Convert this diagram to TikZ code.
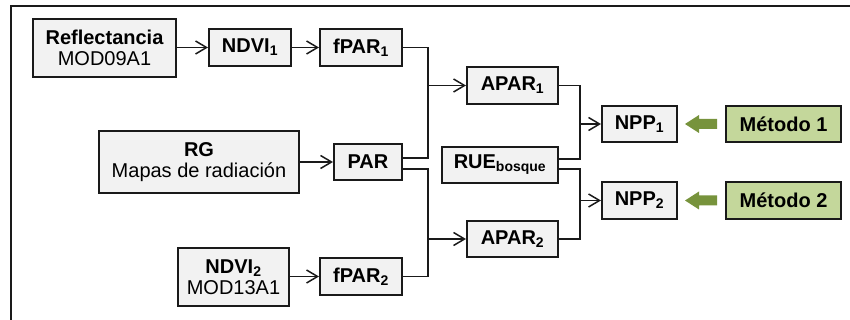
\documentclass[tikz,border=0pt]{standalone}
\usepackage{fontspec}
\setmainfont{Liberation Sans}
\usetikzlibrary{arrows.meta}
\definecolor{boxfill}{HTML}{F2F2F2}
\definecolor{methfill}{HTML}{C4D79B}
\definecolor{methdark}{HTML}{77933C}
\definecolor{edge}{HTML}{1A1A1A}
\tikzset{
  blk/.style={draw=edge, line width=2pt, fill=boxfill, inner sep=0pt,
    align=center, font=\fontsize{20}{21}\selectfont\bfseries},
  meth/.style={blk, fill=methfill},
  link/.style={draw=edge, line width=1.5pt},
  arr/.style={link, -{Straight Barb[length=11pt,width=13pt,line width=1.5pt]}}
}
\newcommand{\lo}[1]{\textsubscript{#1}}
\begin{document}
\begin{tikzpicture}[x=1pt,y=-1pt]
\useasboundingbox (0,0) rectangle (850,320);
% outer frame (top and left edges)
\draw[line width=1.5pt, edge] (850,6) -- (11,6) -- (11,320);

% boxes
\node[blk, minimum width=143pt, minimum height=58pt] (refl) at (104.5,48)
  {Reflectancia\\{\mdseries MOD09A1}};
\node[blk, minimum width=82pt, minimum height=37pt] (ndvi1) at (250,47.5) {NDVI\lo{1}};
\node[blk, minimum width=82pt, minimum height=37pt] (fpar1) at (361,47.5) {fPAR\lo{1}};
\node[blk, minimum width=200pt, minimum height=62pt] (rg) at (199,162)
  {RG\\{\mdseries Mapas de radiación}};
\node[blk, minimum width=68pt, minimum height=36pt] (par) at (368,162) {PAR};
\node[blk, minimum width=111pt, minimum height=58pt] (ndvi2) at (233.5,277)
  {NDVI\lo{2}\\{\mdseries MOD13A1}};
\node[blk, minimum width=82pt, minimum height=37pt] (fpar2) at (361,276.5) {fPAR\lo{2}};
\node[blk, minimum width=91pt, minimum height=37pt] (apar1) at (512.5,85.5) {APAR\lo{1}};
\node[blk, minimum width=116pt, minimum height=36pt] (rue) at (500,165) {RUE\lo{bosque}};
\node[blk, minimum width=91pt, minimum height=36pt] (apar2) at (512.5,239) {APAR\lo{2}};
\node[blk, minimum width=75pt, minimum height=36pt] (npp1) at (639.5,124) {NPP\lo{1}};
\node[blk, minimum width=75pt, minimum height=37pt] (npp2) at (639.5,200.5) {NPP\lo{2}};
\node[meth, minimum width=115pt, minimum height=36pt] (m1) at (783.5,124) {Método 1};
\node[meth, minimum width=115pt, minimum height=37pt] (m2) at (783.5,200.5) {Método 2};

% junction columns and exit points
\coordinate (ja) at (428,0);
\coordinate (jb) at (580,0);
\coordinate (parhi) at ([yshift=4pt]par.east);
\coordinate (parlo) at ([yshift=-7pt]par.east);
\coordinate (ruehi) at ([yshift=6pt]rue.east);
\coordinate (ruelo) at ([yshift=-4pt]rue.east);

% straight links
\draw[arr] (refl.east |- ndvi1.west) -- (ndvi1.west);
\draw[arr] (ndvi1) -- (fpar1);
\draw[arr] (rg) -- (par);
\draw[arr] (ndvi2.east |- fpar2.west) -- (fpar2.west);

% fPAR and PAR feed APAR
\draw[link] (fpar1.east) -| (ja |- parhi) -- (parhi);
\draw[link] (parlo) -| (ja |- fpar2.east) -- (fpar2.east);
\draw[arr] (ja |- apar1.west) -- (apar1.west);
\draw[arr] (ja |- apar2.west) -- (apar2.west);

% APAR and RUE feed NPP
\draw[link] (apar1.east) -| (jb |- ruehi) -- (ruehi);
\draw[link] (ruelo) -| (jb |- apar2.east) -- (apar2.east);
\draw[arr] (jb |- npp1.west) -- (npp1.west);
\draw[arr] (jb |- npp2.west) -- (npp2.west);

% method arrows
\foreach \m in {m1, m2}{
  \fill[methdark] ([xshift=-8pt,yshift=5pt]\m.west) -- ++(-18,0) -- ++(0,-4)
    -- ++(-14,9) -- ++(14,9) -- ++(0,-4) -- ++(18,0) -- cycle;
}
\end{tikzpicture}
\end{document}
